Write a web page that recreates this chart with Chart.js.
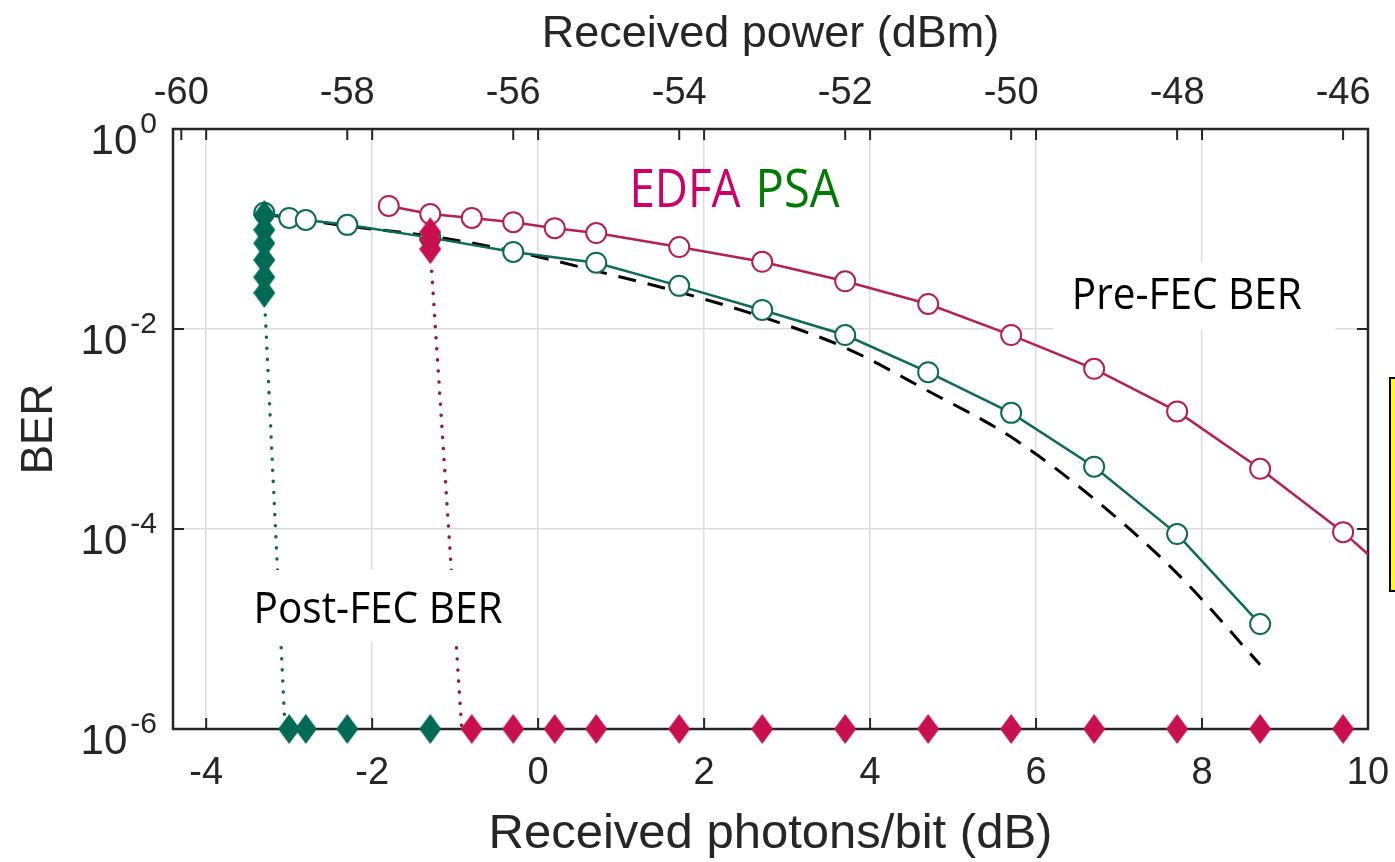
<!DOCTYPE html>
<html>
<head>
<meta charset="utf-8">
<title>BER vs received photons/bit</title>
<script src="https://cdn.jsdelivr.net/npm/chart.js@4.4.1/dist/chart.umd.min.js"></script>
<style>
  html, body { margin: 0; padding: 0; background: #fff; }
  #wrap { width: 1395px; height: 862px; }
</style>
</head>
<body>
<div id="wrap"><canvas id="chart" width="1395" height="862"></canvas></div>
<script>
// values (x = received photons/bit in dB, y = BER)
const psaPreX = [-3.3, -3.0, -2.8, -2.3, -1.3, -0.3, 0.7, 1.7, 2.7, 3.7, 4.7, 5.7, 6.7, 7.7, 8.7];
const psaPreBer = [0.145, 0.129, 0.123, 0.110, 0.082, 0.059, 0.046, 0.027, 0.0155, 0.0087, 0.0037, 0.00145, 0.00042, 0.000089, 0.0000112];

const edfaPreX = [-1.8, -1.3, -0.8, -0.3, 0.2, 0.7, 1.7, 2.7, 3.7, 4.7, 5.7, 6.7, 7.7, 8.7, 9.7, 10.7];
const edfaPreBer = [0.17, 0.141, 0.129, 0.117, 0.102, 0.091, 0.066, 0.047, 0.030, 0.0178, 0.0087, 0.0040, 0.0015, 0.00040, 0.000093, 0.000017];

const theoryX = [-3.3, -2.3, -1.3, -0.3, 0.7, 1.7, 2.7, 3.7, 4.7, 5.7, 6.7, 7.7, 8.7];
const theoryBer = [0.141, 0.107, 0.085, 0.060, 0.038, 0.0234, 0.0132, 0.0065, 0.0024, 0.00083, 0.0002, 0.000036, 0.0000044];

// post-FEC: error-free points sit on the 1e-6 floor
const psaPostX = [-3.3, -3.3, -3.3, -3.3, -3.3, -3.3, -3.0, -2.8, -2.3, -1.3];
const psaPostBer = [0.138, 0.098, 0.072, 0.049, 0.033, 0.023, 1e-6, 1e-6, 1e-6, 1e-6];

const edfaPostX = [-1.3, -1.3, -1.3, -0.8, -0.3, 0.2, 0.7, 1.7, 2.7, 3.7, 4.7, 5.7, 6.7, 7.7, 8.7, 9.7];
const edfaPostBer = [0.093, 0.078, 0.063, 1e-6, 1e-6, 1e-6, 1e-6, 1e-6, 1e-6, 1e-6, 1e-6, 1e-6, 1e-6, 1e-6, 1e-6, 1e-6];

// dotted guides from last errored point down to the floor
const psaGuideX = [-3.3, -3.05];
const psaGuideBer = [0.023, 1e-6];
const edfaGuideX = [-1.3, -0.92];
const edfaGuideBer = [0.063, 1e-6];

const photonTicks = [-4, -2, 0, 2, 4, 6, 8, 10];
const powerTicks = [-60, -58, -56, -54, -52, -50, -48, -46];
const berExponents = [0, -2, -4, -6];
const powerOffset = -55.7; // dBm at 0 dB photons/bit

const green = '#0b6b58';
const red = '#b51f55';
const axisColor = '#262626';

function pts(xs, ys) {
    return xs.map((x, i) => ({ x: x, y: ys[i] }));
}

function diamond(color) {
    const c = document.createElement('canvas');
    c.width = 22; c.height = 30;
    const g = c.getContext('2d');
    g.fillStyle = color;
    g.beginPath();
    g.moveTo(11, 0); g.lineTo(22, 15); g.lineTo(11, 30); g.lineTo(0, 15);
    g.closePath();
    g.fill();
    return c;
}

// text annotations, anchored in data coordinates
const notes = [
    { text: 'EDFA', x: 1.1, y: Math.pow(10, -0.78), color: '#cc0066', size: 53, width: 111 },
    { text: 'PSA', x: 2.62, y: Math.pow(10, -0.78), color: '#007a00', size: 53, width: 84 },
    { text: 'Pre-FEC BER', x: 6.43, y: Math.pow(10, -1.80), color: '#000', size: 43, width: 230,
      box: [6.21, 9.61, -1.33, -2.01] },
    { text: 'Post-FEC BER', x: -3.43, y: Math.pow(10, -4.94), color: '#000', size: 43, width: 249,
      box: [-3.54, -0.29, -4.41, -5.13] }
];

function fitText(ctx, text, x, y, size, width, color) {
    ctx.save();
    ctx.font = size + 'px "Open Sans"';
    const w = ctx.measureText(text).width;
    ctx.translate(x, y);
    ctx.scale(width / w, 1);
    ctx.fillStyle = color;
    ctx.textBaseline = 'alphabetic';
    ctx.textAlign = 'left';
    ctx.fillText(text, 0, 0);
    ctx.restore();
}

// keep the plot box where the figure has it: labels may overhang the edges
function fixHeight(h) {
    return s => { s.height = h; s.paddingLeft = 0; s.paddingRight = 0; };
}

const decor = {
    id: 'decor',
    beforeDatasetsDraw(chart) {
        const { ctx, chartArea: a, scales } = chart;
        ctx.save();
        ctx.strokeStyle = axisColor;
        ctx.lineWidth = 2;
        ctx.beginPath();
        photonTicks.forEach(v => {
            const px = scales.x.getPixelForValue(v);
            ctx.moveTo(px, a.bottom); ctx.lineTo(px, a.bottom - 11);
            ctx.moveTo(px, a.top); ctx.lineTo(px, a.top + 11);
        });
        powerTicks.forEach(v => {
            const px = scales.x2.getPixelForValue(v);
            ctx.moveTo(px, a.top); ctx.lineTo(px, a.top + 11);
        });
        berExponents.forEach(e => {
            const py = scales.y.getPixelForValue(Math.pow(10, e));
            ctx.moveTo(a.left, py); ctx.lineTo(a.left + 11, py);
            ctx.moveTo(a.right, py); ctx.lineTo(a.right - 11, py);
        });
        ctx.stroke();
        ctx.lineWidth = 2.5;
        ctx.strokeRect(a.left, a.top, a.width, a.height);
        ctx.restore();
    },
    afterDatasetsDraw(chart) {
        const { ctx, scales } = chart;
        notes.forEach(n => {
            if (n.box) {
                const x0 = scales.x.getPixelForValue(n.box[0]);
                const x1 = scales.x.getPixelForValue(n.box[1]);
                const y0 = scales.y.getPixelForValue(Math.pow(10, n.box[2]));
                const y1 = scales.y.getPixelForValue(Math.pow(10, n.box[3]));
                ctx.fillStyle = '#fff';
                ctx.fillRect(x0, y0, x1 - x0, y1 - y0);
            }
            fitText(ctx, n.text, scales.x.getPixelForValue(n.x), scales.y.getPixelForValue(n.y),
                n.size, n.width, n.color);
        });
    },
    afterDraw(chart) {
        const { ctx, chartArea: a, scales } = chart;
        ctx.save();
        ctx.fillStyle = axisColor;
        ctx.textBaseline = 'alphabetic';
        berExponents.forEach(e => {
            const py = scales.y.getPixelForValue(Math.pow(10, e));
            const exp = String(e);
            ctx.font = '30px "Liberation Sans"';
            const ew = ctx.measureText(exp).width;
            const right = a.left - 16;
            ctx.textAlign = 'left';
            ctx.fillText(exp, right - ew, py + 4);
            ctx.font = '42px "Liberation Sans"';
            ctx.textAlign = 'right';
            ctx.fillText('10', right - ew - 3, py + 25);
        });
        // yellow box peeking in at the right edge of the slide
        ctx.fillStyle = '#ffff00';
        ctx.fillRect(1390, 378, 20, 213);
        ctx.strokeStyle = '#000';
        ctx.lineWidth = 2;
        ctx.strokeRect(1390, 378, 20, 213);
        ctx.restore();
    }
};

const tickFont = { family: 'Liberation Sans', size: 38 };

new Chart(document.getElementById('chart'), {
    type: 'line',
    data: {
        datasets: [
            {
                label: 'PSA post-FEC', data: pts(psaPostX, psaPostBer), order: 0, clip: false,
                showLine: false, pointStyle: diamond('#006a55'), pointRadius: 12
            },
            {
                label: 'EDFA post-FEC', data: pts(edfaPostX, edfaPostBer), order: 0, clip: false,
                showLine: false, pointStyle: diamond('#c8104f'), pointRadius: 12
            },
            {
                label: 'PSA pre-FEC', data: pts(psaPreX, psaPreBer), order: 1,
                borderColor: green, borderWidth: 2.5, pointRadius: 10, pointBorderWidth: 2,
                pointBackgroundColor: '#fff', pointBorderColor: green
            },
            {
                label: 'EDFA pre-FEC', data: pts(edfaPreX, edfaPreBer), order: 2,
                borderColor: red, borderWidth: 2.5, pointRadius: 10, pointBorderWidth: 2,
                pointBackgroundColor: '#fff', pointBorderColor: red
            },
            {
                label: 'Theory', data: pts(theoryX, theoryBer), order: 3,
                borderColor: '#000', borderWidth: 3, borderDash: [18, 12], pointRadius: 0,
                cubicInterpolationMode: 'monotone'
            },
            {
                label: 'PSA guide', data: pts(psaGuideX, psaGuideBer), order: 4, clip: false,
                borderColor: green, borderWidth: 3.5, borderDash: [0.1, 11], borderCapStyle: 'round',
                pointRadius: 0
            },
            {
                label: 'EDFA guide', data: pts(edfaGuideX, edfaGuideBer), order: 4, clip: false,
                borderColor: '#a01040', borderWidth: 3.5, borderDash: [0.1, 11], borderCapStyle: 'round',
                pointRadius: 0
            }
        ]
    },
    options: {
        responsive: false,
        animation: false,
        events: [],
        layout: { padding: { left: 0, right: 27, top: 0, bottom: 0 } },
        plugins: { legend: { display: false }, tooltip: { enabled: false } },
        scales: {
            x: {
                type: 'linear', position: 'bottom', min: -4.4, max: 10,
                afterBuildTicks: s => { s.ticks = photonTicks.map(v => ({ value: v })); },
                afterFit: fixHeight(133),
                grid: { color: '#dcdcdc', lineWidth: 1.5, drawTicks: false },
                border: { display: false },
                ticks: { font: tickFont, color: axisColor, padding: 22, maxRotation: 0, autoSkip: false },
                title: {
                    display: true, text: 'Received photons/bit (dB)', color: axisColor,
                    font: { family: 'Liberation Sans', size: 49, lineHeight: 1 }, padding: { top: 0, bottom: 3 }
                }
            },
            x2: {
                type: 'linear', position: 'top',
                min: -4.4 + powerOffset, max: 10 + powerOffset,
                afterBuildTicks: s => { s.ticks = powerTicks.map(v => ({ value: v })); },
                afterFit: fixHeight(129),
                grid: { display: false, drawTicks: false },
                border: { display: false },
                ticks: { font: tickFont, color: axisColor, padding: 13, maxRotation: 0, autoSkip: false },
                title: {
                    display: true, text: 'Received power (dBm)', color: axisColor,
                    font: { family: 'Liberation Sans', size: 45, lineHeight: 1 }, padding: { top: 12, bottom: 0 }
                }
            },
            y: {
                type: 'logarithmic', min: 1e-6, max: 1,
                afterBuildTicks: s => { s.ticks = berExponents.map(e => ({ value: Math.pow(10, e) })); },
                afterFit: s => { s.width = 173; s.paddingTop = 0; s.paddingBottom = 0; },
                grid: { color: '#dcdcdc', lineWidth: 1.5, drawTicks: false },
                border: { display: false },
                ticks: { display: false },
                title: {
                    display: true, text: 'BER', color: axisColor,
                    font: { family: 'Liberation Sans', size: 44, lineHeight: 1 }, padding: { top: 18, bottom: 0 }
                }
            }
        }
    },
    plugins: [decor]
});
</script>
</body>
</html>
